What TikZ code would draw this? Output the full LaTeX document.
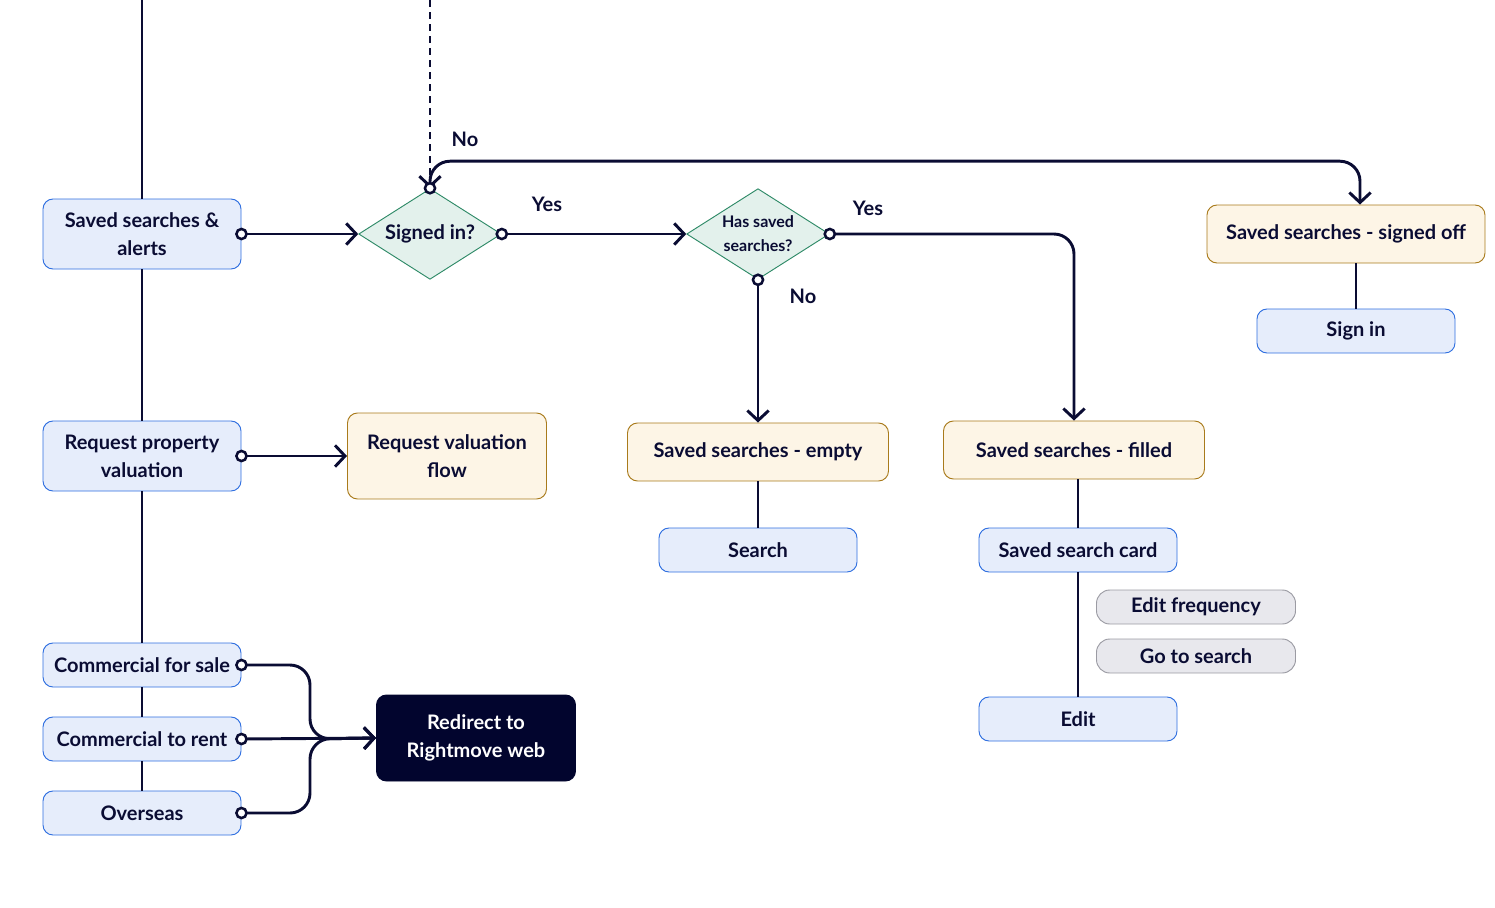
\documentclass[tikz,border=0pt]{standalone}
\usepackage{fontspec}
\setmainfont{Lato}
\usetikzlibrary{arrows.meta,shapes.geometric,calc}
\definecolor{navy}{HTML}{0A0C33}
\definecolor{bfill}{HTML}{E6EDFB}
\definecolor{bline}{HTML}{2F6FE0}
\definecolor{yfill}{HTML}{FDF5E6}
\definecolor{yline}{HTML}{A97B1C}
\definecolor{dfill}{HTML}{E3F1EC}
\definecolor{dline}{HTML}{2E8A67}
\definecolor{gfill}{HTML}{E8E8ED}
\definecolor{gline}{HTML}{9B9BA3}
\definecolor{dark}{HTML}{02052E}
\tikzset{
  box/.style={rounded corners=7.5pt, line width=0.7pt, align=center, text=navy,
    font=\fontsize{15}{21}\selectfont\bfseries, inner sep=2pt},
  bluebox/.style={box, fill=bfill, draw=bline, minimum width=148.5pt},
  bigblue/.style={bluebox, minimum height=52.5pt},
  smallblue/.style={bluebox, minimum height=33pt},
  yellowbox/.style={box, fill=yfill, draw=yline, minimum height=43.5pt},
  graybox/.style={box, fill=gfill, draw=gline, minimum width=149.25pt, minimum height=25.5pt, rounded corners=10pt},
  darkbox/.style={box, fill=dark, draw=dark, text=white, minimum width=149.25pt, minimum height=64.5pt},
  decision/.style={diamond, aspect=1.57, fill=dfill, draw=dline, line width=0.7pt, inner sep=0pt,
    minimum width=107pt, minimum height=68pt, text=navy, align=center,
    font=\fontsize{15}{21}\selectfont\bfseries},
  conn/.style={draw=navy, line width=2.2pt},
  arr/.style={conn, -{Straight Barb[length=7.5pt,width=16pt,line width=2.2pt]}},
  dot/.style={draw=navy, fill=white, line width=1.9pt},
  lbl/.style={text=navy, font=\fontsize{15}{18}\selectfont\bfseries},
}
\begin{document}
\begin{tikzpicture}[x=0.75pt,y=-0.75pt]
\useasboundingbox (0,0) rectangle (1495,907);

% nodes
\node[bigblue] (ssa) at (142,234) {Saved searches \&\\alerts};
\node[bigblue] (rpv) at (142,456) {Request property\\valuation};
\node[smallblue] (cfs) at (142,665) {Commercial for sale};
\node[smallblue] (ctr) at (142,739) {Commercial to rent};
\node[smallblue] (ov) at (142,813) {Overseas};
\node[decision] (si) at (430,234) {Signed in?};
\node[decision, font=\fontsize{12}{18}\selectfont\bfseries] (hs) at (758,234) {Has saved\\searches?};
\node[yellowbox, minimum width=208.5pt] (soff) at (1346,234) {Saved searches - signed off};
\node[smallblue] (signin) at (1356,331) {Sign in};
\node[yellowbox, minimum width=149.25pt, minimum height=64.5pt] (rvf) at (447,456) {Request valuation\\flow};
\node[yellowbox, minimum width=195.75pt] (empty) at (758,452) {Saved searches - empty};
\node[smallblue] (search) at (758,550) {Search};
\node[yellowbox, minimum width=195.75pt] (filled) at (1074,450) {Saved searches - filled};
\node[smallblue] (card) at (1078,550) {Saved search card};
\node[graybox] (ef) at (1196,607) {Edit frequency};
\node[graybox] (gts) at (1196,656) {Go to search};
\node[smallblue] (edit) at (1078,719) {Edit};
\node[darkbox] (rd) at (476,738) {Redirect to\\Rightmove web};

% left spine
\coordinate (ltop) at (142,0);
\draw[conn] (ltop) -- (ssa.north);
\draw[conn] (ssa.south) -- (rpv.north);
\draw[conn] (rpv.south) -- (cfs.north);
\draw[conn] (cfs.south) -- (ctr.north);
\draw[conn] (ctr.south) -- (ov.north);

% entry dotted
\coordinate (dtop) at (430,0);
\draw[arr, dash pattern=on 5pt off 4pt] (dtop) -- (si.north);

% flows
\draw[arr] (ssa.east) -- (si.west);
\draw[arr] (si.east) -- (hs.west);
\draw[arr, rounded corners=15pt] (si.north) -- ++(0,-27) -| ([xshift=10.5pt]soff.north);
\draw[arr, rounded corners=15pt] (hs.east) -| (filled.north);
\draw[arr] (hs.south) -- (empty.north);
\draw[arr] (rpv.east) -- (rvf.west);
\draw[conn] (signin.north |- soff.south) -- (signin.north);
\draw[conn] (empty.south) -- (search.north);
\draw[conn] (card.north |- filled.south) -- (card.north);
\draw[conn] (card.south) -- (edit.north);

\coordinate (mtop) at (310,665);
\coordinate (mbot) at (310,813);
\coordinate (mjoin) at (310,739);
\draw[arr, rounded corners=15pt] (cfs.east) -- (mtop) -- (mjoin) -- (rd.west);
\draw[arr, rounded corners=15pt] (ov.east) -- (mbot) -- (mjoin) -- (rd.west);
\draw[arr] (ctr.east) -- (rd.west);

% start dots
\foreach \p in {ssa.east, rpv.east, cfs.east, ctr.east, ov.east, si.east, si.north, hs.east, hs.south}
  \draw[dot] (\p) circle (3.8pt);

% labels
\node[lbl] (lno1) at (465,139) {No};
\node[lbl] (lyes1) at (547,204) {Yes};
\node[lbl] (lyes2) at (868,208) {Yes};
\node[lbl] (lno2) at (803,296) {No};
\end{tikzpicture}
\end{document}
